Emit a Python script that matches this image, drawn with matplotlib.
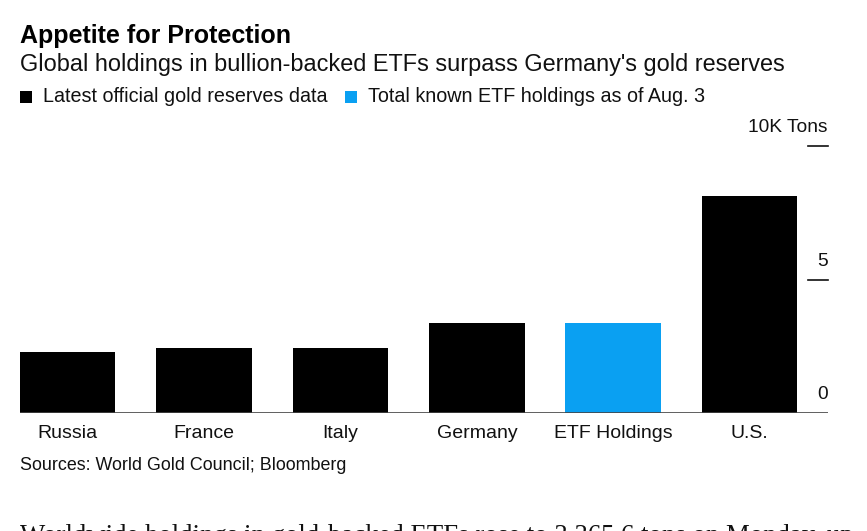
import matplotlib
matplotlib.use("Agg")
import matplotlib.pyplot as plt
import matplotlib.transforms as mtransforms

categories = ["Russia", "France", "Italy", "Germany", "ETF Holdings", "U.S."]
values_k_tons = [2.28, 2.44, 2.45, 3.36, 3.37, 8.13]
bar_colors = ["#000000", "#000000", "#000000", "#000000", "#0aa0f2", "#000000"]
y_ticks = [0, 5, 10]
y_tick_labels = ["0", "5", "10K Tons"]

title = "Appetite for Protection"
subtitle = "Global holdings in bullion-backed ETFs surpass Germany's gold reserves"
legend_labels = ["Latest official gold reserves data", "Total known ETF holdings as of Aug. 3"]
legend_colors = ["#000000", "#0aa0f2"]
source = "Sources: World Gold Council; Bloomberg"
body_text = "Worldwide holdings in gold-backed ETFs rose to 3,365.6 tons on Monday, up"

plt.rcParams['font.family'] = ['Liberation Sans', 'DejaVu Sans']

W, H = 867, 531
fig = plt.figure(figsize=(W / 100, H / 100), dpi=100)
fig.patch.set_facecolor("white")

ax_left, ax_right, ax_bottom, ax_top = 20, 828, 413, 146
ax = fig.add_axes([ax_left / W, (H - ax_bottom) / H, (ax_right - ax_left) / W, (ax_bottom - ax_top) / H])

x = list(range(len(categories)))
ax.bar(x, values_k_tons, width=0.7, color=bar_colors, zorder=2)
ax.set_xlim(-0.35, 5.575)
ax.set_ylim(0, 10)

for s in ax.spines.values():
    s.set_visible(False)
ax.set_yticks([])
ax.set_xticks(x)
ax.set_xticklabels(categories, fontsize=14, color="#111111")
ax.tick_params(axis="x", length=0, pad=9)

# baseline
ax.axhline(0, color="#444444", lw=1.2, zorder=3)

trans = mtransforms.blended_transform_factory(ax.transAxes, ax.transData)
for t, lab in zip(y_ticks, y_tick_labels):
    if t != 0:
        ax.plot([1 - 20 / (ax_right - ax_left), 1.0], [t, t], color="#111111", lw=1.2,
                transform=trans, clip_on=False, zorder=3)
    ax.annotate(lab, xy=(1.0, t), xycoords=trans, xytext=(0, 7), textcoords="offset points",
                ha="right", va="bottom", fontsize=13.8, color="#111111", annotation_clip=False)

fig.text(20 / W, 1 - 36 / H, title, fontsize=18, fontweight="bold", ha="left", va="center", color="#000000")
fig.text(20 / W, 1 - 64.5 / H, subtitle, fontsize=16.9, ha="left", va="center", color="#111111")

# legend
lx = 20
for lab, col in zip(legend_labels, legend_colors):
    fig.patches.append(plt.Rectangle((lx / W, 1 - 103 / H), 12 / W, 12 / H, transform=fig.transFigure,
                                     facecolor=col, edgecolor="none"))
    t = fig.text((lx + 23) / W, 1 - 97 / H, lab, fontsize=14.2, ha="left", va="center", color="#111111")
    fig.canvas.draw()
    bb = t.get_window_extent()
    lx = bb.x1 + 17

fig.text(20 / W, 1 - 465 / H, source, fontsize=12.9, ha="left", va="center", color="#111111")
fig.text(20 / W, 1 - 524 / H, body_text, fontsize=19.3, ha="left", va="top", color="#111111",
         family=["Liberation Serif", "DejaVu Serif"])

fig.savefig("out.png", dpi=100, facecolor="white")
